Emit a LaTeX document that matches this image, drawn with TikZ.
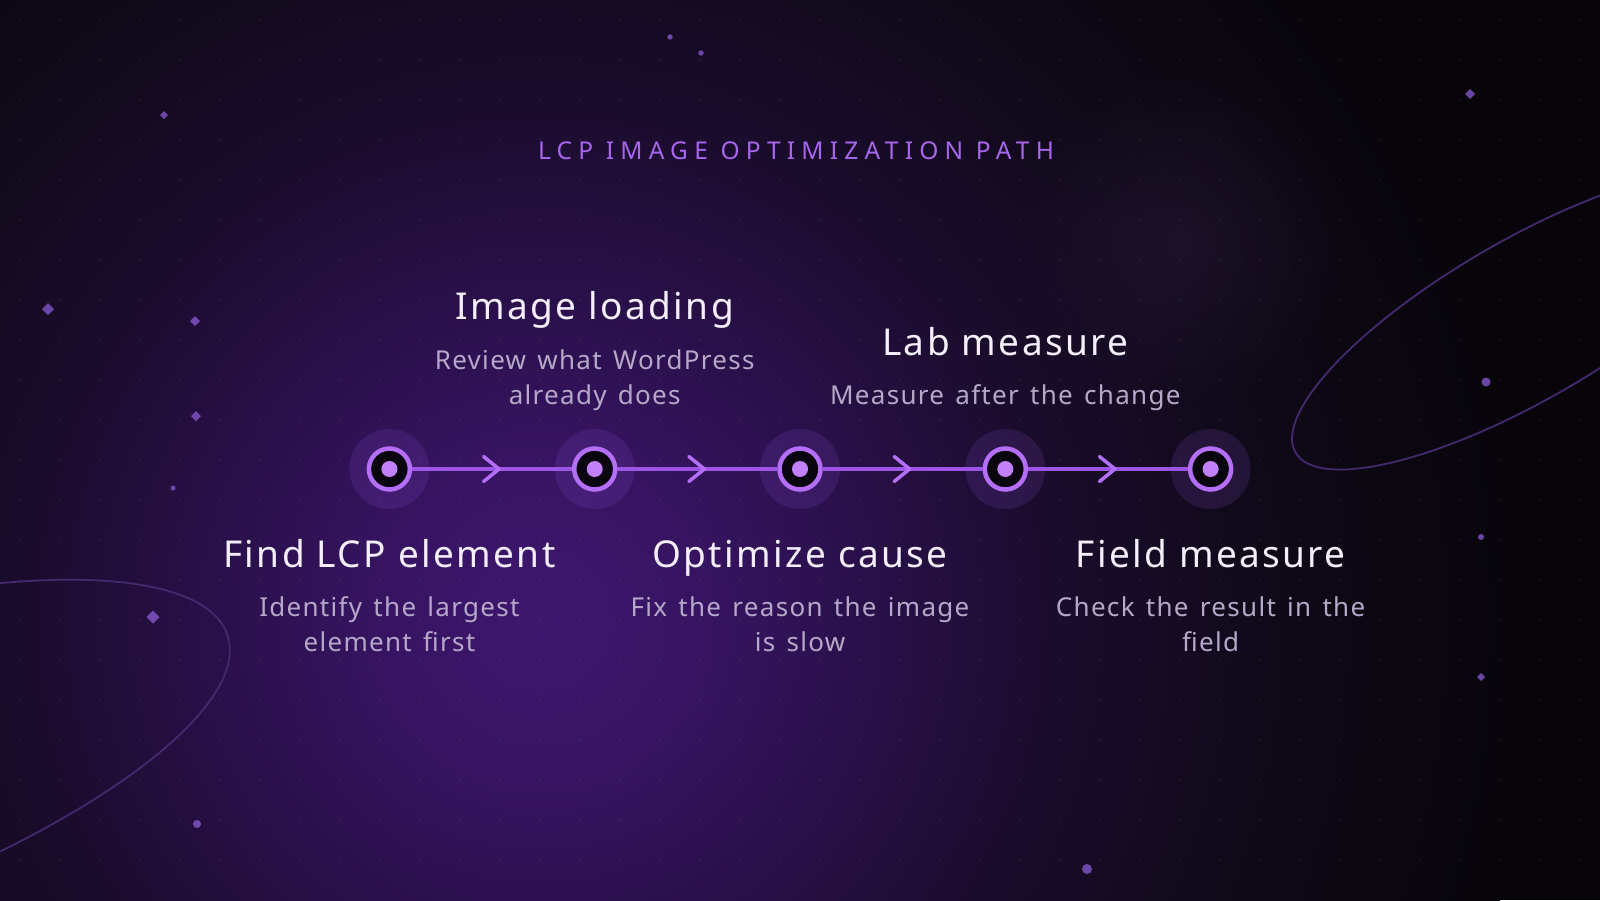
\documentclass[tikz,border=0pt]{standalone}
\usepackage{fontspec}
\setmainfont{Noto Sans}
\newfontfamily\headfont[LetterSpace=25.5]{Noto Sans}
\newfontfamily\titlefont[LetterSpace=6.5]{Noto Sans}
\newfontfamily\notefont[LetterSpace=5,WordSpace=1.4]{Noto Sans}
\usetikzlibrary{decorations.markings,fadings}

\definecolor{bgdark}{HTML}{07050A}
\definecolor{glowA}{HTML}{3E176E}
\definecolor{glowB}{HTML}{371462}
\definecolor{glowC}{HTML}{2A104B}
\definecolor{glowD}{HTML}{1A0C2C}
\definecolor{glowE}{HTML}{0E0916}
\definecolor{glowF}{HTML}{2E1C40}
\definecolor{headc}{HTML}{A866EE}
\definecolor{titlec}{HTML}{F4EFFB}
\definecolor{notec}{HTML}{B5A8C9}
\definecolor{ringc}{HTML}{B46EF7}
\definecolor{corec}{HTML}{0A0610}
\definecolor{dotc}{HTML}{C281FB}
\definecolor{linkc}{HTML}{9D55E6}
\definecolor{haloc}{HTML}{9B5CF0}
\definecolor{orbitc}{HTML}{45296F}
\definecolor{sparkc}{HTML}{8B5BD6}

% the middle 25bp of the shading is fitted to the path
\pgfdeclareradialshading{bgglow}{\pgfpointorigin}{color(0bp)=(glowA); color(4bp)=(glowB); color(8bp)=(glowC); color(13bp)=(glowD); color(19bp)=(glowE); color(25bp)=(bgdark); color(50bp)=(bgdark)}
\tikzfading[name=softglow, inner color=transparent!0, outer color=transparent!100]

\tikzset{
  title/.style={font=\titlefont\fontsize{37}{44}\selectfont, text=titlec, anchor=base},
  note/.style={font=\notefont\fontsize{26}{35}\selectfont, text=notec, align=center, anchor=base},
  marker/.style={circle, draw=ringc, line width=4.5pt, fill=corec, minimum size=41pt, inner sep=0pt,
    path picture={\fill[dotc] (path picture bounding box.center) circle (8);}},
  halo/.style={fill=haloc, opacity=0.14},
  chevron/.style={draw=ringc, line width=3.5pt, line cap=round, line join=round},
  link/.style={draw=linkc, line width=3.2pt, postaction={decorate},
    decoration={markings, mark=at position 0.5 with {\draw[chevron] (-8.5,-12.5) -- (7,0) -- (-8.5,12.5);}}},
  orbit/.style={draw=orbitc, line width=1.8pt},
  spark/.style={fill=sparkc, opacity=0.75},
  griddot/.style={fill=white, opacity=0.06}
}

\begin{document}
\begin{tikzpicture}[x=1pt,y=-1pt]
  \useasboundingbox (0,0) rectangle (1600,900);
  % background
  \fill[bgdark] (0,0) rectangle (1600,900);
  \begin{scope}
    \clip (0,0) rectangle (1600,900);
    \shade[shading=bgglow] (540,620) circle (1000);
    \fill[glowF, path fading=softglow, opacity=0.45] (1180,240) circle (170);
    \foreach \gx in {20,60,...,1580}
      \foreach \gy in {20,60,...,880}
        \fill[griddot] (\gx,\gy) circle (1.2);
    \draw[orbit, rotate around={18:(-248,790)}] (-248,790) ellipse [x radius=500, y radius=150];
    \draw[orbit, rotate around={30:(1525,320)}] (1525,320) ellipse [x radius=265, y radius=80];
  \end{scope}

  % sparks
  \foreach \x/\y/\r in {164/115/4,48/309/6,195/321/5,196/416/5,153/617/6.5,1470/94/5,1481/677/4}
    \fill[spark] (\x,\y) +(0,-\r) -- +(\r,0) -- +(0,\r) -- +(-\r,0) -- cycle;
  \foreach \x/\y/\r in {670/37/2.7,701/53/2.7,173/488/2.5,197/824/4,1087/869/5,1486/382/4.5,1481/537/3}
    \fill[spark] (\x,\y) circle (\r);

  \node[font=\headfont\fontsize{24.5}{30}\selectfont, text=headc, anchor=base] (head) at (796,159.3) {LCP IMAGE OPTIMIZATION PATH};

  % steps
  \foreach \i/\x in {1/389.4,2/594.7,3/800,4/1005.3,5/1210.6}
    \fill[halo] (\x,469) circle (40);
  \foreach \i/\x in {1/389.4,2/594.7,3/800,4/1005.3,5/1210.6}
    \node[marker] (s\i) at (\x,469) {};
  \foreach \a/\b in {1/2,2/3,3/4,4/5}
    \draw[link] (s\a) -- (s\b);

  % base of a note is its last line
  \node[title] (t1) at (389.4,567) {Find LCP element};
  \node[note] (n1) at (389.4,651) {Identify the largest\\element first};
  \node[title] (t2) at (594.7,319) {Image loading};
  \node[note] (n2) at (594.7,404) {Review what WordPress\\already does};
  \node[title] (t3) at (800,567) {Optimize cause};
  \node[note] (n3) at (800,651) {Fix the reason the image\\is slow};
  \node[title] (t4) at (1005.3,355) {Lab measure};
  \node[note] (n4) at (1005.3,404) {Measure after the change};
  \node[title] (t5) at (1210.6,567) {Field measure};
  \node[note] (n5) at (1210.6,651) {Check the result in the\\field};
\end{tikzpicture}
\end{document}
